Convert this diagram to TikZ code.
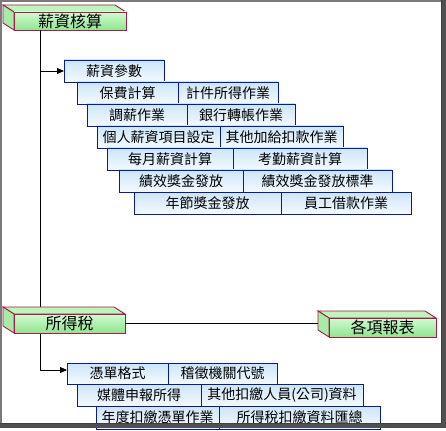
\documentclass[tikz,border=0pt]{standalone}
\usepackage{fontspec}
\setmainfont{Noto Sans CJK TC}
\usetikzlibrary{arrows.meta}
\definecolor{boxblue}{HTML}{0A1A9E}
\definecolor{boxtop}{HTML}{CCE5F8}
\definecolor{boxbot}{HTML}{F4FAFF}
\definecolor{tdedge}{HTML}{A31C4C}
\definecolor{tdfrontA}{HTML}{D2FAD2}
\definecolor{tdfrontB}{HTML}{8EE68E}
\definecolor{tdtopc}{HTML}{BDF5BD}
\definecolor{tdsidec}{HTML}{A6EBA6}
\definecolor{framedark}{HTML}{505050}
\definecolor{framelight}{HTML}{7A7A7A}
\newcommand\mybox[6]{%
  \pgfmathsetmacro\bw{#3-#2}\pgfmathsetmacro\bh{#5-#4}%
  \node[item,minimum width=\bw pt,minimum height=\bh pt,anchor=north west] (#1) at (#2,#4) {#6};}
\newcommand\tdbox[6]{%
  \filldraw[tdline,fill=tdtopc] (#2-11,#3-7) -- (#4-11,#3-7) -- (#4,#3) -- (#2,#3) -- cycle;
  \filldraw[tdline,fill=tdsidec] (#2-11,#3-7) -- (#2,#3) -- (#2,#5) -- (#2-11,#5-7) -- cycle;
  \pgfmathsetmacro\bw{#4-#2}\pgfmathsetmacro\bh{#5-#3}%
  \node[tdfront,minimum width=\bw pt,minimum height=\bh pt,anchor=north west] (#1) at (#2,#3) {#6};}
\begin{document}
\begin{tikzpicture}[x=1pt,y=-1pt,
  item/.style={draw=boxblue,line width=0.9pt,top color=boxtop,bottom color=boxbot,inner sep=0pt,outer sep=0pt,font=\fontsize{14}{14}\selectfont},
  tdline/.style={draw=tdedge,line width=0.9pt,line join=miter},
  tdfront/.style={draw=tdedge,line width=0.9pt,top color=tdfrontA,bottom color=tdfrontB,inner sep=0pt,outer sep=0pt,font=\fontsize{16}{16}\selectfont},
  conn/.style={draw=black,line width=0.8pt},
  arr/.style={conn,-{Triangle[length=7pt,width=6pt]}}]
\useasboundingbox (0,0) rectangle (446,430);
\fill[white] (0,0) rectangle (446,430);
% trunk coordinates
\coordinate (t1) at (40,71);
\coordinate (t3) at (40,370);
\coordinate (rl) at (318,323.5);
% 3D box top
\tdbox{sal}{14}{12}{126}{30}{薪資核算}
\draw[conn] (sal.south -| t1) -- (t3);
% salary items
\mybox{p1}{64}{164}{60}{82}{薪資參數}
\mybox{p2a}{77}{178}{82}{104}{保費計算}
\mybox{p2b}{178}{278}{82}{104}{計件所得作業}
\mybox{p3a}{87}{187}{104}{126}{調薪作業}
\mybox{p3b}{187}{295}{104}{126}{銀行轉帳作業}
\mybox{p4a}{97}{220}{126}{148}{個人薪資項目設定}
\mybox{p4b}{220}{343}{126}{148}{其他加給扣款作業}
\mybox{p5a}{107}{233}{148}{170}{每月薪資計算}
\mybox{p5b}{233}{367}{148}{170}{考勤薪資計算}
\mybox{p6a}{119}{243}{170}{192}{績效獎金發放}
\mybox{p6b}{243}{392}{170}{192}{績效獎金發放標準}
\mybox{p7a}{134}{281}{192}{214}{年節獎金發放}
\mybox{p7b}{281}{411}{192}{214}{員工借款作業}
\draw[arr] (t1) -- (p1.west);
% tax boxes
\tdbox{tax}{14}{314}{125}{333}{所得稅}
\tdbox{rep}{329}{318}{436}{337}{各項報表}
\draw[conn] (tax.east) -- (rl);
\mybox{a1a}{67}{168}{363}{384}{憑單格式}
\mybox{a1b}{168}{277}{363}{384}{稽徵機關代號}
\mybox{a2a}{77}{201}{384}{406}{媒體申報所得}
\mybox{a2b}{201}{363}{384}{406}{其他扣繳人員(公司)資料}
\mybox{a3a}{96}{219}{406}{429}{年度扣繳憑單作業}
\mybox{a3b}{219}{380}{406}{429}{所得稅扣繳資料匯總}
\draw[arr] (t3) -- (t3 -| a1a.west);
% window frame
\fill[framelight] (0,0) rectangle (441,2);
\fill[framelight] (0,0) rectangle (2,428);
\fill[framedark] (441,0) rectangle (446,428);
\fill[framedark] (0,423) rectangle (446,428);
\draw[black!75,line width=0.8pt] (441.4,0) -- (441.4,423.4) -- (0,423.4);
\end{tikzpicture}
\end{document}
